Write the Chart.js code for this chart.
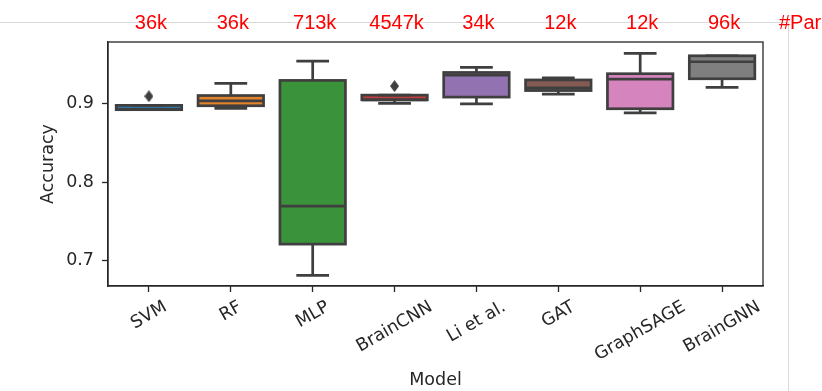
<!DOCTYPE html>
<html>
<head>
<meta charset="utf-8">
<script src="https://cdn.jsdelivr.net/npm/chart.js@4.4.1/dist/chart.umd.min.js"></script>
<style>
  html, body { margin: 0; padding: 0; background: #fff; overflow: hidden; }
  #wrap { position: relative; width: 822px; height: 391px; }
  .rule-h { position: absolute; left: 0; top: 22px; width: 788px; height: 1px; background: #dadada; }
  .rule-v { position: absolute; left: 788px; top: 22px; width: 1px; height: 369px; background: #dadada; }
  canvas { position: absolute; left: 0; top: 0; }
</style>
</head>
<body>
<div id="wrap">
  <div class="rule-h"></div>
  <div class="rule-v"></div>
  <canvas id="c" width="822" height="391"></canvas>
</div>
<script>
// Models compared and their accuracy distributions (box plot summary)
const categories  = ['SVM', 'RF', 'MLP', 'BrainCNN', 'Li et al.', 'GAT', 'GraphSAGE', 'BrainGNN'];
const whiskerLow  = [0.8920, 0.8936, 0.6815, 0.9000, 0.8995, 0.9118, 0.8880, 0.9203];
const q1          = [0.8920, 0.8970, 0.7212, 0.9045, 0.9080, 0.9163, 0.8932, 0.9313];
const medians     = [0.8920, 0.9033, 0.7695, 0.9045, 0.9360, 0.9198, 0.9309, 0.9529];
const q3          = [0.8975, 0.9100, 0.9292, 0.9105, 0.9393, 0.9298, 0.9377, 0.9605];
const whiskerHigh = [0.8975, 0.9254, 0.9537, 0.9105, 0.9457, 0.9325, 0.9635, 0.9605];
const outliers    = [0.909, null, null, 0.922, null, null, null, null];

// Parameter count of each model
const paramCounts = ['36k', '36k', '713k', '4547k', '34k', '12k', '12k', '96k'];
const paramHeader = '#Params';

const yTicks = [0.7, 0.8, 0.9];

const boxColors = ['#3274a1', '#e1812c', '#3a923a', '#c03d3e', '#9372b2', '#845b53', '#d684bd', '#7f7f7f'];
const EDGE = '#3f3f3f';
const AXIS = '#262626';
const LW = 2.7;
const FS = 17.5;
const FONT_FAMILY = '"DejaVu Sans", Verdana, sans-serif';
const TICK_LEN = 6;
const XLABEL_PAD = 5;

// thin diamond marker for fliers
function thinDiamond() {
  const c = document.createElement('canvas');
  c.width = 9; c.height = 12;
  const g = c.getContext('2d');
  g.fillStyle = EDGE;
  g.beginPath();
  g.moveTo(4.5, 0); g.lineTo(9, 6); g.lineTo(4.5, 12); g.lineTo(0, 6);
  g.closePath(); g.fill();
  return c;
}

const boxPlot = {
  id: 'boxPlot',
  afterDatasetsDraw(chart) {
    const ctx = chart.ctx;
    const ys = chart.scales.y;
    const bars = chart.getDatasetMeta(0).data;
    ctx.save();
    ctx.strokeStyle = EDGE;
    ctx.lineWidth = LW;
    ctx.lineJoin = 'miter';
    ctx.lineCap = 'butt';
    const seg = (x1, y1, x2, y2) => { ctx.beginPath(); ctx.moveTo(x1, y1); ctx.lineTo(x2, y2); ctx.stroke(); };
    bars.forEach((bar, i) => {
      const { x, width } = bar.getProps(['x', 'width'], true);
      const half = width / 2, cap = width / 4;
      const yLo = ys.getPixelForValue(whiskerLow[i]);
      const yQ1 = ys.getPixelForValue(q1[i]);
      const yMed = ys.getPixelForValue(medians[i]);
      const yQ3 = ys.getPixelForValue(q3[i]);
      const yHi = ys.getPixelForValue(whiskerHigh[i]);
      // whiskers and caps
      seg(x, yQ1, x, yLo);
      seg(x, yQ3, x, yHi);
      seg(x - cap, yLo, x + cap, yLo);
      seg(x - cap, yHi, x + cap, yHi);
      // box outline and median
      ctx.strokeRect(x - half, yQ3, width, yQ1 - yQ3);
      seg(x - half, yMed, x + half, yMed);
    });
    ctx.restore();
  },
  afterDraw(chart) {
    const ctx = chart.ctx;
    const xs = chart.scales.x;
    const area = chart.chartArea;
    ctx.save();
    // axes frame
    ctx.strokeStyle = AXIS;
    ctx.lineWidth = 1.3;
    ctx.strokeRect(area.left, area.top, area.right - area.left, area.bottom - area.top);

    // rotated category labels
    const ang = Math.PI / 6;
    ctx.font = FS + 'px ' + FONT_FAMILY;
    ctx.fillStyle = AXIS;
    ctx.textAlign = 'center';
    ctx.textBaseline = 'middle';
    categories.forEach((c, i) => {
      const x = xs.getPixelForValue(i);
      const w = ctx.measureText(c).width;
      const h = FS * 1.17;
      const bh = w * Math.sin(ang) + h * Math.cos(ang);
      const cy = area.bottom + TICK_LEN + XLABEL_PAD + bh / 2;
      ctx.save();
      ctx.translate(x, cy);
      ctx.rotate(-ang);
      ctx.fillText(c, 0, 0);
      ctx.restore();
    });

    // parameter counts above each model
    ctx.font = '20px "Liberation Sans", Arial, sans-serif';
    ctx.fillStyle = '#ff0000';
    ctx.textBaseline = 'middle';
    ctx.textAlign = 'center';
    paramCounts.forEach((p, i) => {
      ctx.fillText(p, xs.getPixelForValue(i) + 2, 23);
    });
    ctx.textAlign = 'left';
    ctx.fillText(paramHeader, area.right + 16, 23);
    ctx.restore();
  }
};

const tickFont = { family: FONT_FAMILY, size: FS };

new Chart(document.getElementById('c'), {
  type: 'bar',
  data: {
    labels: categories,
    datasets: [
      {
        label: 'IQR',
        data: q1.map((v, i) => [v, q3[i]]),
        backgroundColor: boxColors,
        borderWidth: 0,
        barPercentage: 0.8,
        categoryPercentage: 1.0,
        order: 2
      },
      {
        type: 'line',
        label: 'Fliers',
        data: outliers,
        showLine: false,
        pointStyle: thinDiamond(),
        pointRadius: 6,
        borderWidth: 0,
        backgroundColor: EDGE,
        order: 1
      }
    ]
  },
  options: {
    responsive: false,
    devicePixelRatio: 1,
    animation: false,
    events: [],
    layout: { padding: { top: 42, right: 59, bottom: 0, left: 0 } },
    plugins: { legend: { display: false }, tooltip: { enabled: false } },
    scales: {
      x: {
        type: 'category',
        offset: true,
        ticks: { display: false },
        grid: { offset: false, drawOnChartArea: false, drawTicks: true, tickLength: TICK_LEN, tickColor: AXIS, tickWidth: 1.3 },
        border: { display: true, color: AXIS, width: 1.3 },
        title: { display: true, text: 'Model', color: AXIS, font: tickFont, padding: { top: 0, bottom: 0 } },
        afterFit: s => { s.height = 105; }
      },
      y: {
        min: 0.668,
        max: 0.978,
        afterBuildTicks: s => { s.ticks = yTicks.map(v => ({ value: v })); },
        ticks: { color: AXIS, font: tickFont, padding: 8, callback: v => Number(v).toFixed(1) },
        grid: { drawOnChartArea: false, drawTicks: true, tickLength: TICK_LEN, tickColor: AXIS, tickWidth: 1.3 },
        border: { display: true, color: AXIS, width: 1.3 },
        title: { display: true, text: 'Accuracy', color: AXIS, font: tickFont, padding: { top: 38, bottom: 0 } },
        afterFit: s => { s.width = 108; }
      }
    }
  },
  plugins: [boxPlot]
});
</script>
</body>
</html>
